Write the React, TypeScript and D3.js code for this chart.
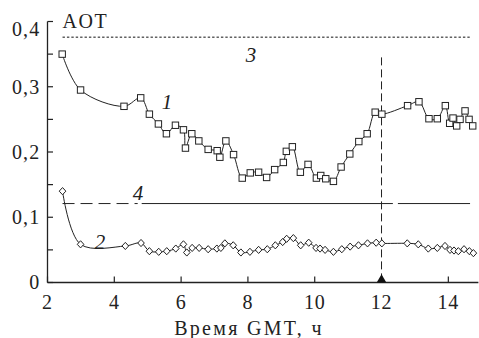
import * as d3 from "d3";

// curve 1: squares
const t1 = [2.44, 2.99, 4.29, 4.79, 5.05, 5.32, 5.56, 5.83, 6.07, 6.13, 6.32, 6.53, 6.81, 7.08, 7.16, 7.34, 7.57, 7.83, 8.07, 8.32, 8.56, 8.8, 9.06, 9.15, 9.33, 9.57, 9.8, 10.05, 10.18, 10.33, 10.56, 10.79, 11.05, 11.32, 11.57, 11.81, 12.01, 12.78, 13.12, 13.42, 13.67, 13.91, 14.04, 14.14, 14.25, 14.35, 14.5, 14.62, 14.73];
const v1 = [0.35, 0.295, 0.27, 0.283, 0.258, 0.243, 0.228, 0.241, 0.234, 0.206, 0.228, 0.217, 0.204, 0.202, 0.192, 0.217, 0.196, 0.16, 0.168, 0.169, 0.161, 0.173, 0.184, 0.201, 0.208, 0.169, 0.181, 0.16, 0.164, 0.159, 0.155, 0.177, 0.197, 0.216, 0.228, 0.261, 0.258, 0.271, 0.277, 0.251, 0.251, 0.271, 0.244, 0.252, 0.24, 0.25, 0.263, 0.25, 0.24];

// curve 2: diamonds
const t2 = [2.45, 2.99, 4.33, 4.8, 5.05, 5.33, 5.57, 5.84, 6.07, 6.17, 6.33, 6.54, 6.81, 7.07, 7.19, 7.31, 7.56, 7.79, 8.06, 8.32, 8.58, 8.82, 9.04, 9.16, 9.36, 9.58, 9.82, 10.04, 10.16, 10.31, 10.56, 10.81, 11.06, 11.31, 11.58, 11.84, 12.01, 12.77, 13.1, 13.4, 13.67, 13.9, 14.05, 14.17, 14.3, 14.47, 14.63, 14.75];
const v2 = [0.14, 0.0585, 0.056, 0.0605, 0.048, 0.047, 0.048, 0.052, 0.0585, 0.046, 0.053, 0.053, 0.051, 0.052, 0.053, 0.06, 0.057, 0.046, 0.047, 0.05, 0.051, 0.057, 0.062, 0.067, 0.068, 0.057, 0.061, 0.053, 0.052, 0.05, 0.047, 0.051, 0.055, 0.057, 0.06, 0.061, 0.06, 0.06, 0.0585, 0.052, 0.053, 0.056, 0.05, 0.049, 0.048, 0.051, 0.048, 0.045];

// line 3 (dotted) and line 4 (dashed, then solid)
const level3 = 0.376;
const span3 = [2.45, 14.7];
const level4 = 0.121;
const dashed4 = [2.45, 4.7];
const solid4 = [[4.82, 12.34], [12.49, 14.65]];

// marker at 12 GMT
const markT = 12;
const markTop = 0.345;

const xTicks = [2, 4, 6, 8, 10, 12, 14];
const yMajor = [0, 0.1, 0.2, 0.3, 0.4];
const yMinor = [0.05, 0.15, 0.25, 0.35];

const W = 479;
const H = 338;
const serif = "Liberation Serif, DejaVu Serif, Times New Roman, serif";

export default function App() {
  const x = d3.scaleLinear().domain([2, 14.9]).range([47.5, 478.4]);
  const y = d3.scaleLinear().domain([0, 0.4]).range([282.5, 21.5]);

  const pts1 = t1.map((t, i) => [t, v1[i]] as [number, number]);
  const pts2 = t2.map((t, i) => [t, v2[i]] as [number, number]);

  const line = d3
    .line<[number, number]>()
    .x((d) => x(d[0]))
    .y((d) => y(d[1]))
    .curve(d3.curveCatmullRom.alpha(0.5));

  const fmt = (v: number) => (v === 0 ? "0" : d3.format(".1f")(v).replace(".", ","));
  const tri = d3.symbol(d3.symbolTriangle, 40)();
  const triOff = Math.sqrt(40 / (Math.sqrt(3) * 3));
  const txt = { fontFamily: serif };

  return (
    <svg
      width={W}
      height={H}
      style={{ position: "absolute", left: 0, top: 0, background: "#fff", fontFamily: serif }}
    >
      {/* reference lines */}
      <line x1={x(span3[0])} x2={x(span3[1])} y1={y(level3)} y2={y(level3)} stroke="#111" strokeWidth={1} strokeDasharray="2.4,2" />
      <line x1={x(dashed4[0])} x2={x(dashed4[1])} y1={y(level4)} y2={y(level4)} stroke="#222" strokeWidth={1} strokeDasharray="12,6" />
      {solid4.map((s, i) => (
        <line key={i} x1={x(s[0])} x2={x(s[1])} y1={y(level4)} y2={y(level4)} stroke="#222" strokeWidth={1} />
      ))}
      <line x1={x(markT)} x2={x(markT)} y1={y(markTop)} y2={y(0)} stroke="#222" strokeWidth={1} strokeDasharray="8,4" />

      {/* curves */}
      <path d={line(pts1) ?? ""} fill="none" stroke="#222" strokeWidth={1} />
      <path d={line(pts2) ?? ""} fill="none" stroke="#222" strokeWidth={1} />
      {pts1.map((d, i) => (
        <rect key={i} x={x(d[0]) - 3.2} y={y(d[1]) - 3.2} width={6.4} height={6.4} fill="#fff" stroke="#222" strokeWidth={1} />
      ))}
      {pts2.map((d, i) => (
        <path
          key={i}
          d={`M${x(d[0])},${y(d[1]) - 3.6}L${x(d[0]) + 3.3},${y(d[1])}L${x(d[0])},${y(d[1]) + 3.6}L${x(d[0]) - 3.3},${y(d[1])}Z`}
          fill="#fff"
          stroke="#222"
          strokeWidth={1}
        />
      ))}

      {/* axes */}
      <line x1={x(2)} x2={x(2)} y1={y(0)} y2={y(0.4)} stroke="#222" strokeWidth={1.3} />
      <line x1={x(2)} x2={x(14.9)} y1={y(0)} y2={y(0)} stroke="#222" strokeWidth={1.3} />
      {[...yMajor, ...yMinor].map((v) => (
        <line key={v} x1={x(2)} x2={x(2) + 5.5} y1={y(v)} y2={y(v)} stroke="#222" strokeWidth={1.2} />
      ))}
      {xTicks.map((t) => (
        <line key={t} x1={x(t)} x2={x(t)} y1={y(0)} y2={y(0) - 6} stroke="#222" strokeWidth={1.2} />
      ))}
      {yMajor.map((v) => (
        <text key={v} style={txt} x={x(2) - 7} y={y(v)} dy={v === 0.4 ? "0.72em" : "0.34em"} textAnchor="end" fontSize={20} letterSpacing={1.2} fill="#222">
          {fmt(v)}
        </text>
      ))}
      {xTicks.map((t) => (
        <text key={t} style={txt} x={x(t)} y={y(0) + 26} textAnchor="middle" fontSize={20} letterSpacing={0.8} fill="#222">
          {t}
        </text>
      ))}
      <path d={tri ?? ""} transform={`translate(${x(markT)},${y(0) - triOff})`} fill="#111" />

      {/* labels */}
      <text style={txt} x={x(2.45)} y={27.7} fontSize={20} letterSpacing={1.5} fill="#222">AOT</text>
      <text style={txt} x={249} y={335} textAnchor="middle" fontSize={20} letterSpacing={2.3} fill="#222">Время GMT, ч</text>
      <text style={txt} x={167} y={109} textAnchor="middle" fontSize={21} fontStyle="italic" fill="#222">1</text>
      <text style={txt} x={100} y={249} textAnchor="middle" fontSize={21} fontStyle="italic" fill="#222">2</text>
      <text style={txt} x={251} y={62} textAnchor="middle" fontSize={21} fontStyle="italic" fill="#222">3</text>
      <text style={txt} x={138} y={200} textAnchor="middle" fontSize={21} fontStyle="italic" fill="#222">4</text>
    </svg>
  );
}
